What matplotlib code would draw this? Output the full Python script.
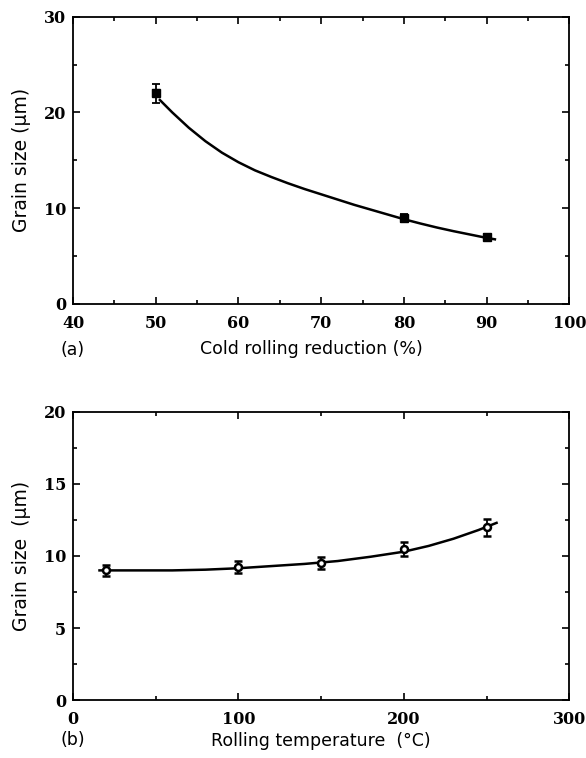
import matplotlib
matplotlib.use('Agg')
import matplotlib.pyplot as plt
from matplotlib.ticker import MultipleLocator

# (a) cold rolling reduction
red_pts = [50, 80, 90]
red_size = [22.0, 9.0, 7.0]
red_err = [1.0, 0.4, 0.3]
# fitted curve
red_curve_x = [50.5, 52, 54, 56, 58, 60, 62, 64, 66, 68, 70, 72, 74, 76, 78, 80, 82, 84, 86, 88, 90, 91]
red_curve_y = [21.3, 20.0, 18.4, 17.0, 15.8, 14.8, 13.95, 13.25, 12.6, 12.0, 11.45, 10.9,
               10.35, 9.85, 9.35, 8.85, 8.4, 7.98, 7.6, 7.25, 6.9, 6.75]

# (b) rolling temperature
temp_pts = [20, 100, 150, 200, 250]
temp_size = [9.0, 9.25, 9.5, 10.5, 12.0]
temp_err = [0.4, 0.4, 0.4, 0.5, 0.6]
temp_curve_x = [16, 40, 60, 80, 100, 120, 140, 160, 180, 200, 215, 230, 245, 256]
temp_curve_y = [9.0, 9.0, 9.0, 9.05, 9.15, 9.3, 9.45, 9.65, 9.95, 10.3, 10.7, 11.2, 11.8, 12.3]

tickfont = dict(family='DejaVu Serif', weight='bold', size=11.5)
labfont = dict(family='DejaVu Sans', size=12.5)

fig = plt.figure(figsize=(5.86, 7.58), dpi=100)
ax1 = fig.add_axes([0.1246, 0.599, 0.847, 0.379])
ax2 = fig.add_axes([0.1246, 0.0765, 0.847, 0.380])


def style(ax, xmaj, xmin, ymaj, ymin):
    ax.xaxis.set_major_locator(MultipleLocator(xmaj))
    ax.xaxis.set_minor_locator(MultipleLocator(xmin))
    ax.yaxis.set_major_locator(MultipleLocator(ymaj))
    ax.yaxis.set_minor_locator(MultipleLocator(ymin))
    ax.tick_params(which='both', direction='in', top=True, right=True, width=1.2)
    ax.tick_params(which='major', length=5)
    ax.tick_params(which='minor', length=3)
    ax.tick_params(axis='x', pad=8)
    ax.tick_params(axis='y', pad=5)
    for sp in ax.spines.values():
        sp.set_linewidth(1.3)
    for lab in ax.get_xticklabels() + ax.get_yticklabels():
        lab.set_fontfamily(tickfont['family'])
        lab.set_fontweight(tickfont['weight'])
        lab.set_fontsize(tickfont['size'])


ax1.plot(red_curve_x, red_curve_y, color='black', lw=1.8)
ax1.errorbar(red_pts, red_size, yerr=red_err, fmt='s', color='black', ms=6,
             capsize=3, elinewidth=1.3, capthick=1.3)
ax1.plot(red_pts[:1], red_size[:1], 's', ms=5, mfc='white', mec='black', mew=1.5)
ax1.set_xlim(40, 100)
ax1.set_ylim(0, 30)
style(ax1, 10, 5, 10, 5)
ax1.set_xlabel('Cold rolling reduction (%)', fontdict=labfont)
ax1.xaxis.set_label_coords(0.48, -0.125)
ax1.set_ylabel('Grain size (\u00b5m)', fontdict=dict(labfont, size=13.5))
ax1.yaxis.set_label_coords(-0.085, 0.5)
ax1.text(0.0, -0.16, '(a)', transform=ax1.transAxes, ha='center', va='center',
         fontdict=labfont)

ax2.plot(temp_curve_x, temp_curve_y, color='black', lw=1.8)
ax2.errorbar(temp_pts, temp_size, yerr=temp_err, fmt='o', color='black', ms=5,
             mfc='white', mew=1.8, capsize=3, elinewidth=1.3, capthick=1.3)
ax2.set_xlim(0, 300)
ax2.set_ylim(0, 20)
style(ax2, 100, 50, 5, 2.5)
ax2.set_xlabel('Rolling temperature  (\u00b0C)', fontdict=labfont)
ax2.xaxis.set_label_coords(0.5, -0.11)
ax2.set_ylabel('Grain size  (\u00b5m)', fontdict=dict(labfont, size=13.5))
ax2.yaxis.set_label_coords(-0.085, 0.5)
ax2.text(0.0, -0.14, '(b)', transform=ax2.transAxes, ha='center', va='center',
         fontdict=labfont)

fig.savefig('out.png', dpi=100)
